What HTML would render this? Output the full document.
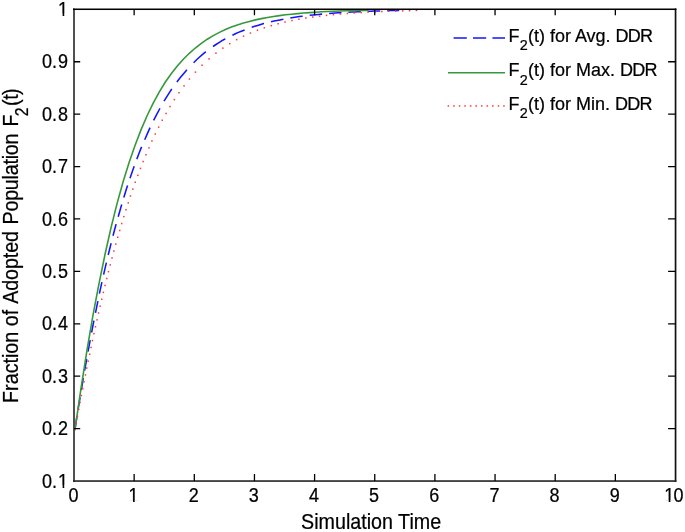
<!DOCTYPE html>
<html><head><meta charset="utf-8"><title>Fraction of Adopted Population</title>
<style>
html,body{margin:0;padding:0;background:#fff;}
body{width:685px;height:532px;overflow:hidden;}
svg{display:block;}
text{font-family:"Liberation Sans",Arial,Helvetica,sans-serif;fill:#000;stroke:#000;stroke-width:0.22px;}
.tk{font-size:18px;}
.lb{font-size:19.7px;}
.lg{font-size:18px;}
.sub{font-size:14.4px;}
.subl{font-size:15.8px;}
</style></head><body>
<svg width="685" height="532" viewBox="0 0 685 532">
<rect x="0" y="0" width="685" height="532" fill="#fff"/>
<path d="M75.0,428.9 L76.9,416.7 M78.1,409.2 L80.1,397.4 M81.3,390.2 L83.3,378.2 M84.6,370.6 L86.7,359.0 M88.0,351.7 L90.2,340.1 M91.6,332.5 L93.9,320.7 M95.5,312.9 L97.9,301.2 M99.4,293.7 L101.9,282.1 M103.6,274.6 L106.4,262.6 M108.2,255.0 L111.1,243.3 M113.0,235.8 L116.0,224.5 L116.1,224.1 M118.2,216.7 L121.2,206.2 L121.7,204.6 M123.8,197.4 L126.8,187.8 L127.6,185.6 M130.0,178.3 L133.0,169.6 L134.2,166.3 M136.8,159.1 L139.8,151.3 L141.6,146.9 M144.7,139.7 L147.7,132.9 L150.1,127.6 M153.6,120.4 L156.6,114.6 L159.6,109.0 L159.9,108.3 M164.0,101.2 L167.0,96.3 L170.0,91.7 L171.8,89.0 M176.9,82.0 L179.9,78.1 L182.9,74.4 L185.9,70.9 L186.9,69.8 M193.6,62.7 L196.6,59.8 L199.6,57.0 L202.6,54.4 L205.6,52.0 L205.9,51.8 M213.0,46.5 L216.0,44.5 L219.0,42.6 L222.0,40.7 L225.0,39.0 L225.3,38.9 M232.4,35.2 L235.4,33.8 L238.4,32.4 L241.4,31.2 L244.4,30.0 L244.6,29.9 M251.7,27.3 L254.7,26.3 L257.7,25.4 L260.7,24.5 L263.8,23.6 L264.0,23.6 M271.0,21.8 L274.0,21.1 L277.0,20.5 L280.0,19.9 L283.0,19.3 L283.4,19.2 M290.3,18.0 L293.3,17.5 L296.4,17.0 L299.4,16.6 L302.4,16.2 L302.7,16.2 M309.7,15.3 L312.7,15.0 L315.7,14.7 L318.7,14.4 L321.7,14.1 L322.1,14.1 M329.1,13.5 L332.1,13.2 L335.1,13.0 L338.1,12.8 L341.1,12.6 L341.5,12.6 M348.4,12.2 L351.4,12.0 L354.5,11.9 L357.5,11.7 L360.5,11.6 L360.8,11.6 M367.8,11.3 L370.8,11.2 L373.8,11.1 L376.8,11.0 L379.8,10.9 L380.2,10.9 M387.2,10.7 L390.2,10.6 L393.2,10.5 L396.2,10.5 L399.2,10.4" fill="none" stroke="#1414ff" stroke-width="1.55"/>
<polyline points="75.0,429.4 81.0,388.3 87.0,350.2 93.0,315.2 99.1,283.2 105.1,254.0 111.1,227.4 117.1,203.4 123.1,181.8 129.1,162.4 135.2,145.0 141.2,129.4 147.2,115.5 153.2,103.1 159.2,92.1 165.2,82.3 171.2,73.7 177.3,66.0 183.3,59.3 189.3,53.3 195.3,48.0 201.3,43.3 207.3,39.2 213.3,35.6 219.4,32.4 225.4,29.6 231.4,27.1 237.4,25.0 243.4,23.1 249.4,21.4 255.4,19.9 261.5,18.6 267.5,17.5 273.5,16.5 279.5,15.6 285.5,14.8 291.5,14.2 297.6,13.6 303.6,13.0 309.6,12.6 315.6,12.2 321.6,11.8 327.6,11.5 333.6,11.2 339.7,11.0 345.7,10.8 351.7,10.6 357.7,10.5 363.7,10.4 368.5,10.4" fill="none" stroke="#36983a" stroke-width="1.6"/>
<g fill="#ff3838"><rect x="74.2" y="429.0" width="1.5" height="1.5"/><rect x="75.5" y="422.4" width="1.5" height="1.5"/><rect x="76.7" y="415.5" width="1.5" height="1.5"/><rect x="78.0" y="408.6" width="1.5" height="1.5"/><rect x="79.3" y="401.7" width="1.5" height="1.5"/><rect x="80.6" y="394.8" width="1.5" height="1.5"/><rect x="82.0" y="387.9" width="1.5" height="1.5"/><rect x="83.3" y="381.1" width="1.5" height="1.5"/><rect x="84.7" y="374.2" width="1.5" height="1.5"/><rect x="86.0" y="367.3" width="1.5" height="1.5"/><rect x="87.4" y="360.4" width="1.5" height="1.5"/><rect x="88.9" y="353.5" width="1.5" height="1.5"/><rect x="90.3" y="346.7" width="1.5" height="1.5"/><rect x="91.7" y="339.8" width="1.5" height="1.5"/><rect x="93.2" y="332.9" width="1.5" height="1.5"/><rect x="94.7" y="326.0" width="1.5" height="1.5"/><rect x="96.3" y="319.1" width="1.5" height="1.5"/><rect x="97.8" y="312.2" width="1.5" height="1.5"/><rect x="99.4" y="305.4" width="1.5" height="1.5"/><rect x="101.0" y="298.5" width="1.5" height="1.5"/><rect x="102.6" y="291.6" width="1.5" height="1.5"/><rect x="104.3" y="284.7" width="1.5" height="1.5"/><rect x="106.0" y="277.8" width="1.5" height="1.5"/><rect x="107.7" y="270.9" width="1.5" height="1.5"/><rect x="109.5" y="264.1" width="1.5" height="1.5"/><rect x="111.3" y="257.2" width="1.5" height="1.5"/><rect x="113.1" y="250.3" width="1.5" height="1.5"/><rect x="115.0" y="243.4" width="1.5" height="1.5"/><rect x="117.0" y="236.5" width="1.5" height="1.5"/><rect x="119.0" y="229.7" width="1.5" height="1.5"/><rect x="121.0" y="222.8" width="1.5" height="1.5"/><rect x="123.1" y="215.9" width="1.5" height="1.5"/><rect x="125.2" y="209.0" width="1.5" height="1.5"/><rect x="127.5" y="202.1" width="1.5" height="1.5"/><rect x="129.7" y="195.2" width="1.5" height="1.5"/><rect x="132.1" y="188.4" width="1.5" height="1.5"/><rect x="134.5" y="181.5" width="1.5" height="1.5"/><rect x="137.1" y="174.6" width="1.5" height="1.5"/><rect x="139.7" y="167.7" width="1.5" height="1.5"/><rect x="142.4" y="160.8" width="1.5" height="1.5"/><rect x="145.2" y="154.0" width="1.5" height="1.5"/><rect x="148.2" y="147.1" width="1.5" height="1.5"/><rect x="151.2" y="140.2" width="1.5" height="1.5"/><rect x="154.5" y="133.3" width="1.5" height="1.5"/><rect x="157.9" y="126.4" width="1.5" height="1.5"/><rect x="161.5" y="119.5" width="1.5" height="1.5"/><rect x="165.3" y="112.7" width="1.5" height="1.5"/><rect x="169.3" y="105.8" width="1.5" height="1.5"/><rect x="173.6" y="98.9" width="1.5" height="1.5"/><rect x="178.2" y="92.0" width="1.5" height="1.5"/><rect x="183.3" y="85.1" width="1.5" height="1.5"/><rect x="188.7" y="78.3" width="1.5" height="1.5"/><rect x="194.7" y="71.4" width="1.5" height="1.5"/><rect x="201.3" y="64.5" width="1.5" height="1.5"/><rect x="208.3" y="58.1" width="1.5" height="1.5"/><rect x="215.2" y="52.4" width="1.5" height="1.5"/><rect x="222.1" y="47.4" width="1.5" height="1.5"/><rect x="229.0" y="42.9" width="1.5" height="1.5"/><rect x="235.9" y="38.9" width="1.5" height="1.5"/><rect x="242.8" y="35.4" width="1.5" height="1.5"/><rect x="249.7" y="32.3" width="1.5" height="1.5"/><rect x="256.7" y="29.5" width="1.5" height="1.5"/><rect x="263.6" y="27.1" width="1.5" height="1.5"/><rect x="270.5" y="24.9" width="1.5" height="1.5"/><rect x="277.4" y="23.0" width="1.5" height="1.5"/><rect x="284.3" y="21.3" width="1.5" height="1.5"/><rect x="291.2" y="19.8" width="1.5" height="1.5"/><rect x="298.1" y="18.5" width="1.5" height="1.5"/><rect x="305.1" y="17.3" width="1.5" height="1.5"/><rect x="312.0" y="16.3" width="1.5" height="1.5"/><rect x="318.9" y="15.4" width="1.5" height="1.5"/><rect x="325.8" y="14.6" width="1.5" height="1.5"/><rect x="332.7" y="13.9" width="1.5" height="1.5"/><rect x="339.6" y="13.3" width="1.5" height="1.5"/><rect x="346.6" y="12.7" width="1.5" height="1.5"/><rect x="353.5" y="12.2" width="1.5" height="1.5"/><rect x="360.4" y="11.8" width="1.5" height="1.5"/><rect x="367.3" y="11.4" width="1.5" height="1.5"/><rect x="374.2" y="11.1" width="1.5" height="1.5"/><rect x="381.1" y="10.8" width="1.5" height="1.5"/><rect x="388.0" y="10.5" width="1.5" height="1.5"/><rect x="395.0" y="10.3" width="1.5" height="1.5"/><rect x="401.9" y="10.1" width="1.5" height="1.5"/><rect x="408.8" y="9.9" width="1.5" height="1.5"/><rect x="415.7" y="9.7" width="1.5" height="1.5"/></g>
<rect x="73" y="8.5" width="2" height="473.35" fill="#505050"/>
<rect x="674.7" y="8.5" width="1.7" height="473.35" fill="#111"/>
<rect x="73" y="8.5" width="603.40" height="1.52" fill="#000"/>
<rect x="73" y="480.25" width="603.40" height="1.6" fill="#222"/>
<g stroke="#000" stroke-width="1.3" fill="none" stroke-linecap="butt">
<path d="M134.15,481 V473.9 M134.15,9.3 V15.2 M194.30,481 V473.9 M194.30,9.3 V15.2 M254.45,481 V473.9 M254.45,9.3 V15.2 M314.60,481 V473.9 M314.60,9.3 V15.2 M374.75,481 V473.9 M374.75,9.3 V15.2 M434.90,481 V473.9 M434.90,9.3 V15.2 M495.05,481 V473.9 M495.05,9.3 V15.2 M555.20,481 V473.9 M555.20,9.3 V15.2 M615.35,481 V473.9 M615.35,9.3 V15.2 M74,428.59 H80.2 M675.5,428.59 H668.1 M74,376.18 H80.2 M675.5,376.18 H668.1 M74,323.78 H80.2 M675.5,323.78 H668.1 M74,271.37 H80.2 M675.5,271.37 H668.1 M74,218.96 H80.2 M675.5,218.96 H668.1 M74,166.55 H80.2 M675.5,166.55 H668.1 M74,114.15 H80.2 M675.5,114.15 H668.1 M74,61.74 H80.2 M675.5,61.74 H668.1"/>
</g>
<g class="tk">
<text transform="translate(68.4,502.4) scale(1,1.09)">0</text><text transform="translate(128.6,502.4) scale(1,1.09)">1</text><rect x="128.92" y="500.13" width="4.11" height="2.87" fill="#fff"/><rect x="134.72" y="500.13" width="4.01" height="2.87" fill="#fff"/><text transform="translate(188.7,502.4) scale(1,1.09)">2</text><text transform="translate(248.8,502.4) scale(1,1.09)">3</text><text transform="translate(309.0,502.4) scale(1,1.09)">4</text><text transform="translate(369.1,502.4) scale(1,1.09)">5</text><text transform="translate(429.3,502.4) scale(1,1.09)">6</text><text transform="translate(489.4,502.4) scale(1,1.09)">7</text><text transform="translate(549.6,502.4) scale(1,1.09)">8</text><text transform="translate(609.8,502.4) scale(1,1.09)">9</text><text transform="translate(0,502.4) scale(1,1.09)" x="664.2 673.5">10</text><rect x="664.57" y="500.13" width="4.11" height="2.87" fill="#fff"/><rect x="670.37" y="500.13" width="4.01" height="2.87" fill="#fff"/>
</g>
<g class="tk">
<text transform="translate(0,487.6) scale(1,1.09)" x="42.0 52.1 58.1">0.1</text><rect x="58.47" y="485.38" width="4.11" height="2.87" fill="#fff"/><rect x="64.27" y="485.38" width="4.01" height="2.87" fill="#fff"/><text transform="translate(0,435.2) scale(1,1.09)" x="42.0 52.1 58.1">0.2</text><text transform="translate(0,382.8) scale(1,1.09)" x="42.0 52.1 58.1">0.3</text><text transform="translate(0,330.4) scale(1,1.09)" x="42.0 52.1 58.1">0.4</text><text transform="translate(0,278.0) scale(1,1.09)" x="42.0 52.1 58.1">0.5</text><text transform="translate(0,225.6) scale(1,1.09)" x="42.0 52.1 58.1">0.6</text><text transform="translate(0,173.2) scale(1,1.09)" x="42.0 52.1 58.1">0.7</text><text transform="translate(0,120.8) scale(1,1.09)" x="42.0 52.1 58.1">0.8</text><text transform="translate(0,68.4) scale(1,1.09)" x="42.0 52.1 58.1">0.9</text><text transform="translate(0,16.0) scale(1,1.09)" x="58.1">1</text><rect x="58.47" y="13.71" width="4.11" height="2.87" fill="#fff"/><rect x="64.27" y="13.71" width="4.01" height="2.87" fill="#fff"/>
</g>
<text class="lb" transform="translate(371.1,529.0) scale(1,1.11)" text-anchor="middle">Simulation Time</text>
<text class="lb" transform="translate(17.9,402.9) rotate(-90) scale(1,1.11)"><tspan x="0">Fraction of </tspan><tspan x="99.1" letter-spacing="-0.1">Adopted </tspan><tspan x="178.4" letter-spacing="-0.22">Population </tspan><tspan x="276.4">F</tspan><tspan class="subl" x="286.7" dy="8.8">2</tspan><tspan x="297.0" dy="-8.8" letter-spacing="-0.5">(t)</tspan></text>
<path d="M453.6,38.0 H505" stroke="#1414ff" stroke-width="1.55" stroke-dasharray="13.2 6.2" fill="none"/>
<text class="lg" transform="translate(0,41.75) scale(1,1.07)"><tspan x="508.6">F</tspan><tspan class="sub" x="519.7" dy="7.75">2</tspan><tspan x="528.0" dy="-7.75">(t) for Avg. </tspan><tspan letter-spacing="-0.75">DDR</tspan></text>
<path d="M448,72.7 H505" stroke="#36983a" stroke-width="1.6" fill="none"/>
<text class="lg" transform="translate(0,76.45) scale(1,1.07)"><tspan x="508.6">F</tspan><tspan class="sub" x="519.7" dy="7.75">2</tspan><tspan x="528.0" dy="-7.75">(t) for Max. </tspan><tspan letter-spacing="-0.75">DDR</tspan></text>
<g fill="#ff3838"><rect x="447.6" y="105.2" width="1.5" height="1.5"/><rect x="453.2" y="105.2" width="1.5" height="1.5"/><rect x="458.8" y="105.2" width="1.5" height="1.5"/><rect x="464.3" y="105.2" width="1.5" height="1.5"/><rect x="469.9" y="105.2" width="1.5" height="1.5"/><rect x="475.4" y="105.2" width="1.5" height="1.5"/><rect x="481.0" y="105.2" width="1.5" height="1.5"/><rect x="486.6" y="105.2" width="1.5" height="1.5"/><rect x="492.1" y="105.2" width="1.5" height="1.5"/><rect x="497.7" y="105.2" width="1.5" height="1.5"/><rect x="503.2" y="105.2" width="1.5" height="1.5"/></g>
<text class="lg" transform="translate(0,109.75) scale(1,1.07)"><tspan x="508.6">F</tspan><tspan class="sub" x="519.7" dy="7.75">2</tspan><tspan x="528.0" dy="-7.75">(t) for Min. </tspan><tspan letter-spacing="-0.75">DDR</tspan></text>
</svg>
</body></html>
